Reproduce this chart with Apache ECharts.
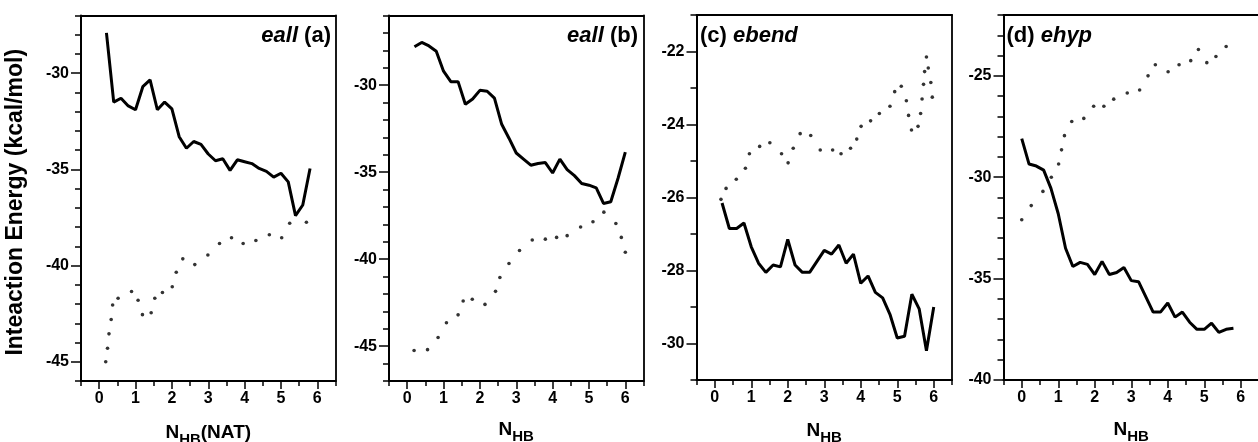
<!DOCTYPE html>
<html>
<head>
<meta charset="utf-8">
<script src="https://cdn.jsdelivr.net/npm/echarts@6/dist/echarts.min.js"></script>
<style>
html,body{margin:0;padding:0;background:#fff;}
#chart{width:1258px;height:442px;}
</style>
</head>
<body>
<div id="chart"></div>
<script>
// ---- data ----
const xTickLabels = [0, 1, 2, 3, 4, 5, 6];

// panel (a) eall, NAT
const aLineX = [0.2,0.4,0.6,0.8,1.0,1.2,1.4,1.6,1.8,2.0,2.2,2.4,2.6,2.8,3.0,3.2,3.4,3.6,3.8,4.0,4.2,4.4,4.6,4.8,5.0,5.2,5.4,5.6,5.8];
const aLineY = [-27.9,-31.5,-31.3,-31.7,-31.9,-30.7,-30.35,-31.9,-31.5,-31.85,-33.3,-33.9,-33.55,-33.7,-34.2,-34.55,-34.45,-35.05,-34.5,-34.6,-34.7,-34.95,-35.1,-35.4,-35.2,-35.65,-37.4,-36.85,-34.95];
const aDotX = [0.18,0.23,0.27,0.33,0.37,0.52,0.89,1.07,1.19,1.43,1.53,1.74,2.01,2.12,2.3,2.63,2.99,3.31,3.64,3.96,4.31,4.68,5.02,5.24,5.7];
const aDotY = [-45.0,-44.3,-43.55,-42.8,-42.05,-41.7,-41.35,-41.8,-42.55,-42.45,-41.7,-41.4,-41.1,-40.35,-39.65,-39.95,-39.45,-38.85,-38.55,-38.85,-38.7,-38.4,-38.55,-37.8,-37.75];
const aYTicks = [-45, -40, -35, -30];

// panel (b) eall
const bLineX = [0.2,0.4,0.6,0.8,1.0,1.2,1.4,1.6,1.8,2.0,2.2,2.4,2.6,2.8,3.0,3.2,3.4,3.6,3.8,4.0,4.2,4.4,4.6,4.8,5.0,5.2,5.4,5.6,5.8,6.0];
const bLineY = [-27.8,-27.55,-27.75,-28.05,-29.2,-29.8,-29.8,-31.1,-30.8,-30.3,-30.35,-30.75,-32.25,-33.05,-33.9,-34.25,-34.6,-34.5,-34.45,-35.05,-34.25,-34.85,-35.2,-35.65,-35.75,-35.9,-36.8,-36.7,-35.35,-33.85];
const bDotX = [0.19,0.56,0.85,1.08,1.4,1.54,1.79,2.14,2.43,2.55,2.8,3.09,3.44,3.8,4.11,4.4,4.77,5.11,5.41,5.74,5.89,6.0];
const bDotY = [-45.25,-45.2,-44.5,-43.65,-43.2,-42.4,-42.3,-42.6,-41.85,-41.05,-40.25,-39.5,-38.9,-38.85,-38.75,-38.65,-38.15,-37.85,-37.3,-37.95,-38.75,-39.6];
const bYTicks = [-45, -40, -35, -30];

// panel (c) ebend
const cLineX = [0.2,0.4,0.6,0.8,1.0,1.2,1.4,1.6,1.8,2.0,2.2,2.4,2.6,2.8,3.0,3.2,3.4,3.6,3.8,4.0,4.2,4.4,4.6,4.8,5.0,5.2,5.4,5.6,5.8,6.0];
const cLineY = [-26.15,-26.85,-26.85,-26.7,-27.35,-27.8,-28.05,-27.85,-27.9,-27.15,-27.85,-28.05,-28.05,-27.75,-27.45,-27.55,-27.3,-27.8,-27.55,-28.35,-28.15,-28.6,-28.75,-29.2,-29.85,-29.8,-28.65,-29.05,-30.2,-29.0];
const cDotX = [0.17,0.31,0.59,0.84,0.95,1.23,1.51,1.83,2.01,2.15,2.34,2.63,2.89,3.23,3.46,3.72,3.89,4.01,4.27,4.51,4.8,4.93,5.11,5.25,5.31,5.39,5.57,5.64,5.68,5.72,5.75,5.8,5.85,5.92,5.96];
const cDotY = [-26.05,-25.75,-25.5,-25.2,-24.8,-24.6,-24.5,-24.8,-25.05,-24.65,-24.25,-24.3,-24.7,-24.7,-24.8,-24.65,-24.4,-24.05,-23.9,-23.7,-23.5,-23.1,-22.95,-23.35,-23.75,-24.15,-24.05,-23.7,-23.3,-22.9,-22.55,-22.15,-22.45,-22.85,-23.25];
const cYTicks = [-30, -28, -26, -24, -22];

// panel (d) ehyp
const dLineX = [0.0,0.2,0.4,0.6,0.8,1.0,1.2,1.4,1.6,1.8,2.0,2.2,2.4,2.6,2.8,3.0,3.2,3.4,3.6,3.8,4.0,4.2,4.4,4.6,4.8,5.0,5.2,5.4,5.6,5.8];
const dLineY = [-28.1,-29.35,-29.45,-29.65,-30.55,-31.8,-33.5,-34.4,-34.2,-34.3,-34.8,-34.15,-34.8,-34.7,-34.45,-35.1,-35.15,-35.9,-36.65,-36.65,-36.2,-36.9,-36.65,-37.15,-37.5,-37.5,-37.2,-37.65,-37.5,-37.45];
const dDotX = [0,0.26,0.58,0.81,1.01,1.09,1.17,1.37,1.7,1.97,2.25,2.52,2.89,3.23,3.46,3.66,4.01,4.31,4.63,4.84,5.07,5.32,5.6];
const dDotY = [-32.1,-31.4,-30.7,-30.0,-29.35,-28.65,-27.95,-27.25,-27.1,-26.5,-26.5,-26.15,-25.85,-25.7,-25.0,-24.45,-24.8,-24.45,-24.25,-23.7,-24.35,-24.05,-23.55];
const dYTicks = [-40, -35, -30, -25];

const titles = [
  {italic: 'eall', plain: '(a)', side: 'right'},
  {italic: 'eall', plain: '(b)', side: 'right'},
  {italic: 'ebend', plain: '(c)', side: 'left'},
  {italic: 'ehyp', plain: '(d)', side: 'left'}
];
const xNames = ['{n|N}{s|HB}{n|(NAT)}', '{n|N}{s|HB}', '{n|N}{s|HB}', '{n|N}{s|HB}'];
const yName = 'Inteaction Energy (kcal/mol)';

// ---- layout / style ----
const FONT = "'Liberation Sans', Arial, sans-serif";
const panels = [
  {grid:{left:81, top:15.5, width:254.5, height:365.5}, ymin:-46, ymax:-27, yt:aYTicks, lx:aLineX, ly:aLineY, dx:aDotX, dy:aDotY, nameGap:42},
  {grid:{left:389, top:15.5, width:254.5, height:365.5}, ymin:-47, ymax:-26, yt:bYTicks, lx:bLineX, ly:bLineY, dx:bDotX, dy:bDotY, nameGap:39},
  {grid:{left:696.5, top:15, width:255.5, height:365}, ymin:-31, ymax:-21, yt:cYTicks, lx:cLineX, ly:cLineY, dx:cDotX, dy:cDotY, nameGap:41},
  {grid:{left:1003.5, top:15, width:255.5, height:365}, ymin:-40, ymax:-22, yt:dYTicks, lx:dLineX, ly:dLineY, dx:dDotX, dy:dDotY, nameGap:40}
];

const zip = (xs, ys) => xs.map((x, i) => [x, ys[i]]);
const lineOnly = {axisTick:{show:false}, axisLabel:{show:false}, splitLine:{show:false}};

const grid = [], xAxis = [], yAxis = [], series = [], title = [];
panels.forEach((p, i) => {
  grid.push(Object.assign({show:false, containLabel:false, outerBoundsMode:'none'}, p.grid));
  // minor x ticks + axis line (index 3i)
  xAxis.push({type:'value', gridIndex:i, min:-0.5, max:6.5, interval:0.5, position:'bottom',
    axisLine:{show:true, onZero:false, lineStyle:{color:'#000', width:2}},
    axisTick:{show:true, length:5, lineStyle:{color:'#000', width:1.5}},
    axisLabel:{show:false}, splitLine:{show:false}});
  // major x ticks + labels + name
  xAxis.push({type:'value', gridIndex:i, min:-0.5, max:6.5, position:'bottom',
    axisLine:{show:false, onZero:false},
    axisTick:{show:true, length:8, customValues:xTickLabels, lineStyle:{color:'#000', width:1.5}},
    axisLabel:{show:true, customValues:xTickLabels, margin:10, color:'#000', fontSize:16, fontWeight:'bold', fontFamily:FONT},
    splitLine:{show:false},
    name:xNames[i], nameLocation:'middle', nameGap:p.nameGap,
    nameTextStyle:{color:'#000', fontFamily:FONT, rich:{
      n:{fontSize:19, fontWeight:'bold', fontFamily:FONT, color:'#000', verticalAlign:'top', lineHeight:24},
      s:{fontSize:15, fontWeight:'bold', fontFamily:FONT, color:'#000', verticalAlign:'bottom', lineHeight:17, padding:[8,0,0,0]}
    }}});
  // top frame line
  xAxis.push(Object.assign({type:'value', gridIndex:i, min:-0.5, max:6.5, position:'top',
    axisLine:{show:true, onZero:false, lineStyle:{color:'#000', width:1.8}}}, lineOnly));

  // minor y ticks + axis line
  yAxis.push({type:'value', gridIndex:i, min:p.ymin, max:p.ymax, interval:1, position:'left',
    axisLine:{show:true, onZero:false, lineStyle:{color:'#000', width:2}},
    axisTick:{show:true, length:6, lineStyle:{color:'#000', width:1.5}},
    axisLabel:{show:false}, splitLine:{show:false}});
  // major y ticks + labels
  const ymaj = {type:'value', gridIndex:i, min:p.ymin, max:p.ymax, position:'left',
    axisLine:{show:false, onZero:false},
    axisTick:{show:true, length:10, customValues:p.yt, lineStyle:{color:'#000', width:1.5}},
    axisLabel:{show:true, customValues:p.yt, margin:12, color:'#000', fontSize:16, fontWeight:'bold', fontFamily:FONT},
    splitLine:{show:false}};
  if (i === 0) {
    ymaj.name = yName; ymaj.nameLocation = 'middle'; ymaj.nameGap = 54; ymaj.nameRotate = 90;
    ymaj.nameTextStyle = {color:'#000', fontSize:23, fontWeight:'bold', fontFamily:FONT, padding:[0,8,0,0]};
  }
  yAxis.push(ymaj);
  // right frame line
  yAxis.push(Object.assign({type:'value', gridIndex:i, min:p.ymin, max:p.ymax, position:'right',
    axisLine:{show:true, onZero:false, lineStyle:{color:'#000', width:1.8}}}, lineOnly));

  series.push({type:'line', xAxisIndex:3*i, yAxisIndex:3*i, data:zip(p.lx, p.ly),
    showSymbol:false, symbol:'none', lineStyle:{color:'#000', width:3}, z:3, animation:false});
  series.push({type:'scatter', xAxisIndex:3*i, yAxisIndex:3*i, data:zip(p.dx, p.dy),
    symbol:'circle', symbolSize:3.6, itemStyle:{color:'#000'}, z:3, animation:false});

  const t = titles[i];
  const txt = t.side === 'right' ? '{i|' + t.italic + '} {b|' + t.plain + '}' : '{b|' + t.plain + '} {i|' + t.italic + '}';
  const ts = {text: txt, top: 25, padding: 0,
    textStyle:{fontSize:22, fontWeight:'bold', fontFamily:FONT, color:'#000', rich:{
      i:{fontSize:22, fontWeight:'bold', fontStyle:'italic', fontFamily:FONT, color:'#000'},
      b:{fontSize:22, fontWeight:'bold', fontFamily:FONT, color:'#000'}
    }}};
  if (i === 0) ts.right = 1258 - 331;
  if (i === 1) ts.right = 1258 - 638;
  if (i === 2) ts.left = 700;
  if (i === 3) ts.left = 1006.5;
  title.push(ts);
});

const chart = echarts.init(document.getElementById('chart'), null, {renderer:'canvas'});
chart.setOption({animation:false, backgroundColor:'#fff', title, grid, xAxis, yAxis, series});
</script>
</body>
</html>
